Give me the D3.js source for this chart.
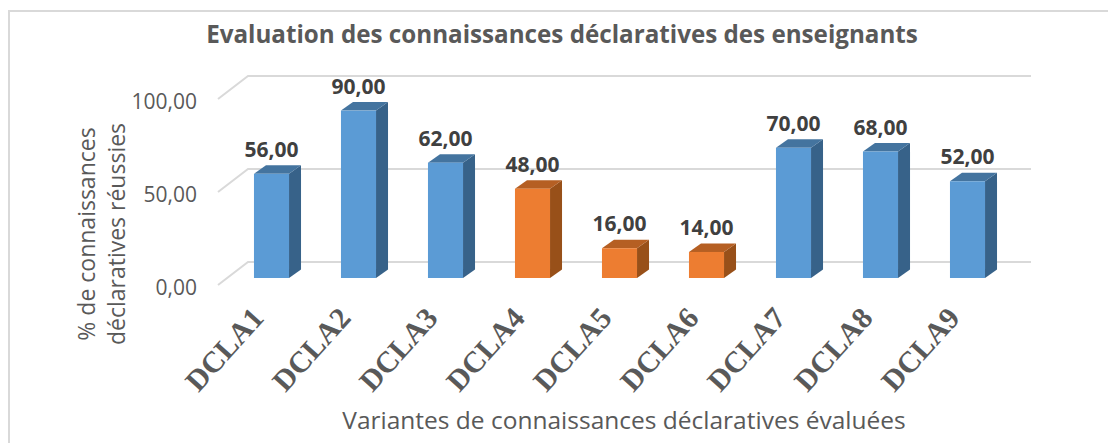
<!DOCTYPE html>
<html>
<head>
<meta charset="utf-8">
<script src="https://cdn.jsdelivr.net/npm/d3@7"></script>
<style>
  html, body { margin: 0; background: #fff; }
  svg { display: block; }
  text { font-family: "Open Sans", sans-serif; }
  .axis .domain, .axis line { display: none; }
  .axis-y text { font-size: 21px; fill: #595959; }
  .axis-x text { font-family: "Liberation Serif", serif; font-weight: bold; font-size: 30px; fill: #595959; }
</style>
</head>
<body>
<svg id="chart" width="1108" height="443"></svg>
<script>
const categories = ['DCLA1', 'DCLA2', 'DCLA3', 'DCLA4', 'DCLA5', 'DCLA6', 'DCLA7', 'DCLA8', 'DCLA9'];
const values = [56, 90, 62, 48, 16, 14, 70, 68, 52];
const weakCategories = ['DCLA4', 'DCLA5', 'DCLA6'];
const yTicks = [0, 50, 100];
const yTitleLines = ['% de connaissances', 'déclaratives réussies'];
const chartTitle = 'Evaluation des connaissances déclaratives des enseignants';
const xTitle = 'Variantes de connaissances déclaratives évaluées';

const svg = d3.select('#chart');
const width = 1108;
const height = 443;
const comma = d3.formatLocale({ decimal: ',', thousands: ' ', grouping: [3], currency: ['', ''] }).format('.2f');

// front edge of the floor, the back wall sits at +depth
const x = d3.scaleBand().domain(categories).range([218, 1001]).paddingInner(0.597).paddingOuter(0.2985);
const y = d3.scaleLinear().domain([0, 100]).range([285, 99]);
const wall = { dx: 30, dy: -23 };
const bar = { offX: 10, offY: -7, dx: 12, dy: -8.5 };

const blue = { front: '#5b9bd5', top: '#44749f', side: '#376289' };
const orange = { front: '#ed7d31', top: '#b55f23', side: '#985019' };

// frame, open on the right and at the bottom like the cropped original
svg.append('rect')
  .attr('x', 9).attr('y', 11)
  .attr('width', width + 20).attr('height', height + 20)
  .attr('fill', '#fff').attr('stroke', '#d9d9d9').attr('stroke-width', 2);

svg.append('text')
  .attr('x', 562).attr('y', 43)
  .attr('text-anchor', 'middle')
  .attr('font-size', 24.2).attr('font-weight', 'bold').attr('fill', '#595959')
  .text(chartTitle);

// gridlines
const grid = svg.append('g').attr('fill', 'none').attr('stroke', '#d9d9d9').attr('stroke-width', 2);
grid.selectAll('path')
  .data(yTicks)
  .join('path')
  .attr('d', d => d3.line()([
    [x.range()[0], y(d)],
    [x.range()[0] + wall.dx, y(d) + wall.dy],
    [x.range()[1] + wall.dx, y(d) + wall.dy]
  ]));

svg.append('g')
  .attr('class', 'axis axis-y')
  .attr('transform', 'translate(204, 3)')
  .call(d3.axisLeft(y).tickValues(yTicks).tickSize(0).tickPadding(7).tickFormat(comma));

const xAxis = svg.append('g')
  .attr('class', 'axis axis-x')
  .attr('transform', 'translate(0, 290)')
  .call(d3.axisBottom(x).tickSize(0).tickPadding(0));
xAxis.selectAll('text')
  .attr('text-anchor', 'end')
  .attr('dy', '0.35em')
  .attr('transform', 'translate(-4, 22) rotate(-48)');

// bars
const bars = svg.append('g')
  .selectAll('g')
  .data(categories.map((c, i) => ({ c, v: values[i] })))
  .join('g')
  .attr('transform', `translate(${bar.offX}, ${bar.offY})`);

const pal = d => weakCategories.includes(d.c) ? orange : blue;
const poly = pts => d3.line()(pts) + 'Z';

bars.append('path')
  .attr('fill', d => pal(d).side)
  .attr('d', d => {
    const r = x(d.c) + x.bandwidth();
    return poly([[r, y(d.v)], [r + bar.dx, y(d.v) + bar.dy], [r + bar.dx, y(0) + bar.dy], [r, y(0)]]);
  });
bars.append('path')
  .attr('fill', d => pal(d).top)
  .attr('d', d => {
    const l = x(d.c), r = l + x.bandwidth();
    return poly([[l, y(d.v)], [l + bar.dx, y(d.v) + bar.dy], [r + bar.dx, y(d.v) + bar.dy], [r, y(d.v)]]);
  });
bars.append('rect')
  .attr('x', d => x(d.c))
  .attr('y', d => y(d.v))
  .attr('width', x.bandwidth())
  .attr('height', d => y(0) - y(d.v))
  .attr('fill', d => pal(d).front);
bars.append('text')
  .attr('x', d => x(d.c) + x.bandwidth() / 2)
  .attr('y', d => y(d.v) - 17)
  .attr('text-anchor', 'middle')
  .attr('font-size', 21).attr('font-weight', 'bold').attr('fill', '#404040')
  .text(d => comma(d.v));

// axis titles
svg.append('text')
  .attr('transform', 'translate(103, 234) rotate(-90)')
  .attr('text-anchor', 'middle')
  .attr('font-size', 23).attr('fill', '#595959')
  .selectAll('tspan')
  .data(yTitleLines)
  .join('tspan')
  .attr('x', 0)
  .attr('y', (d, i) => i * 30 - 8)
  .text(d => d);

svg.append('text')
  .attr('x', 624).attr('y', 429)
  .attr('text-anchor', 'middle')
  .attr('font-size', 24.5).attr('fill', '#595959')
  .text(xTitle);
</script>
</body>
</html>
